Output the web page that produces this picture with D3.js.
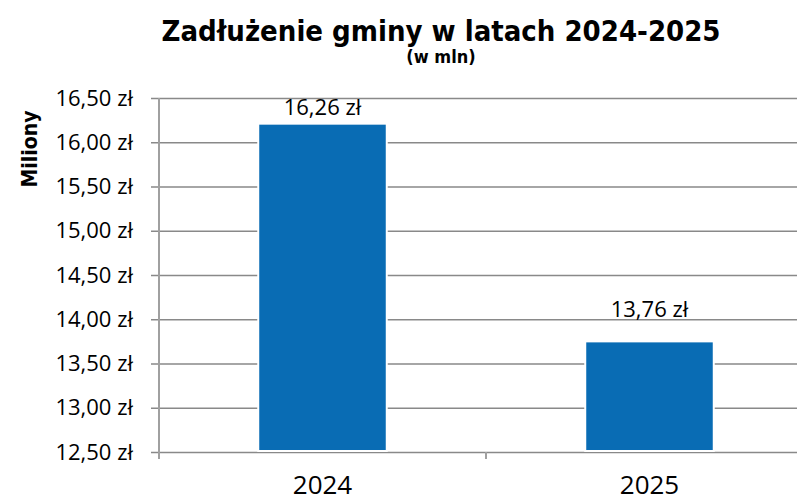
<!DOCTYPE html>
<html>
<head>
<meta charset="utf-8">
<script src="https://cdn.jsdelivr.net/npm/d3@7"></script>
<style>
  body { margin: 0; background: #fff; }
  svg { display: block; }
  .tick text { font-family: "Open Sans", sans-serif; fill: #000; }
</style>
</head>
<body>
<div id="chart"></div>
<script>
// data
var years = ["2024", "2025"]
var debt = [16.21, 13.75]
var valueLabels = ["16,26 zł", "13,76 zł"]
var yTicks = [12.5, 13, 13.5, 14, 14.5, 15, 15.5, 16, 16.5]

var W = 797, H = 499
var margin = {top: 98, right: -16, bottom: 47, left: 159}
var width = W - margin.left - margin.right
var height = H - margin.top - margin.bottom

var svg = d3.select("#chart").append("svg")
    .attr("width", W)
    .attr("height", H)

var g = svg.append("g")
    .attr("transform", "translate(" + margin.left + "," + margin.top + ")")

var x = d3.scaleBand()
    .domain(years)
    .range([0, width])
    .paddingInner(0.607)
    .paddingOuter(0.3035)

var y = d3.scaleLinear()
    .domain([12.5, 16.5])
    .range([height, 0])

var fmt = function(d) { return d3.format(".2f")(d).replace(".", ",") + " zł" }

// gridlines + y ticks
var yAxis = g.append("g")
    .call(d3.axisLeft(y)
        .tickValues(yTicks)
        .tickSize(-(width + 8))
        .tickFormat(fmt))
    .attr("transform", "translate(-8,0)")
yAxis.select(".domain").remove()
yAxis.selectAll(".tick line")
    .attr("stroke", "#898989")
    .attr("stroke-width", 1.6)
yAxis.selectAll(".tick text")
    .attr("x", -18)
    .style("font-size", "22px")

// bars
g.selectAll(".bar")
    .data(years)
    .enter()
    .append("rect")
        .attr("class", "bar")
        .attr("x", function(d) { return x(d) })
        .attr("y", function(d, i) { return y(debt[i]) })
        .attr("width", x.bandwidth())
        .attr("height", function(d, i) { return height - y(debt[i]) - 1 })
        .attr("fill", "#096cb4")
        .attr("stroke", "#ffffff")
        .attr("stroke-width", 2)

// value labels (offsets as placed in the original)
var labelDy = [-9, -24]
g.selectAll(".vlabel")
    .data(years)
    .enter()
    .append("text")
        .attr("class", "vlabel")
        .attr("x", function(d) { return x(d) + x.bandwidth() / 2 })
        .attr("y", function(d, i) { return y(debt[i]) + labelDy[i] })
        .attr("text-anchor", "middle")
        .style("font-family", "Open Sans, sans-serif")
        .style("font-size", "22px")
        .text(function(d, i) { return valueLabels[i] })

// x axis: ticks between categories
var xEdges = years.map(function(d) { return x(d) - x.step() * x.paddingOuter() })
g.selectAll(".xtick")
    .data(xEdges)
    .enter()
    .append("line")
        .attr("x1", function(d) { return d })
        .attr("x2", function(d) { return d })
        .attr("y1", height)
        .attr("y2", height + 7)
        .attr("stroke", "#a0a0a0")
        .attr("stroke-width", 2)

g.selectAll(".xlabel")
    .data(years)
    .enter()
    .append("text")
        .attr("x", function(d) { return x(d) + x.bandwidth() / 2 })
        .attr("y", height + 42)
        .attr("text-anchor", "middle")
        .style("font-family", "Open Sans, sans-serif")
        .style("font-size", "26px")
        .text(function(d) { return d })

// vertical axis line
g.append("line")
    .attr("x1", 0).attr("x2", 0)
    .attr("y1", 0).attr("y2", height + 7)
    .attr("stroke", "#a0a0a0")
    .attr("stroke-width", 2)

// titles
svg.append("text")
    .attr("x", 441)
    .attr("y", 41)
    .attr("text-anchor", "middle")
    .style("font-family", "DejaVu Sans Condensed, DejaVu Sans, sans-serif")
    .style("font-stretch", "condensed")
    .style("font-weight", "bold")
    .style("font-size", "29px")
    .text("Zadłużenie gminy w latach 2024-2025")

svg.append("text")
    .attr("x", 441)
    .attr("y", 63)
    .attr("text-anchor", "middle")
    .style("font-family", "DejaVu Sans Condensed, DejaVu Sans, sans-serif")
    .style("font-stretch", "condensed")
    .style("font-weight", "bold")
    .style("font-size", "18px")
    .text("(w mln)")

svg.append("g")
    .attr("transform", "translate(37,149)")
    .append("text")
        .attr("text-anchor", "middle")
        .attr("transform", "rotate(-90)")
        .style("font-family", "DejaVu Sans Condensed, DejaVu Sans, sans-serif")
        .style("font-stretch", "condensed")
        .style("font-weight", "bold")
        .style("font-size", "21px")
        .text("Miliony")
</script>
</body>
</html>
